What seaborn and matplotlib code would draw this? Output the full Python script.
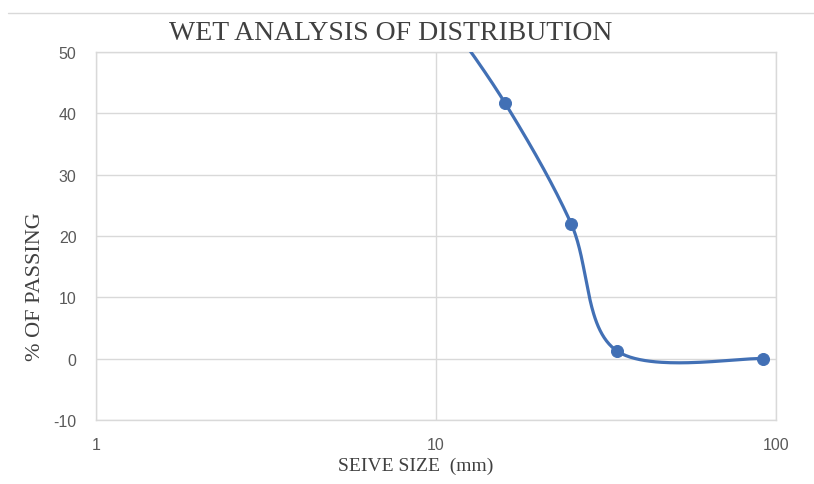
import numpy as np
import pandas as pd
import seaborn as sb
import matplotlib
matplotlib.use('Agg')
import matplotlib.pyplot as plt
from matplotlib.lines import Line2D

# sieve data (the 10 mm point sits above the visible range)
sieve_size = [10, 16, 25, 34, 92]
passing = [58, 41.6, 22.0, 1.3, 0.0]

x_ticks = [1, 10, 100]
y_ticks = [-10, 0, 10, 20, 30, 40, 50]

df = pd.DataFrame({"size": sieve_size, "passing": passing})


def smooth_curve(xs, ys, n=60):
    # excel style smoothed line: bezier segments, control points from neighbours
    px = np.log10(np.array(xs, dtype=float)) * 340.0
    py = np.array(ys, dtype=float) * 6.13
    pts = np.column_stack([px, py])
    out = []
    for i in range(len(pts) - 1):
        p0 = pts[i]
        p3 = pts[i + 1]
        prev = pts[i - 1] if i > 0 else p0
        nxt = pts[i + 2] if i + 2 < len(pts) else p3
        c1 = p0 + (p3 - prev) / 6.0
        c2 = p3 - (nxt - p0) / 6.0
        t = np.linspace(0, 1, n)[:, None]
        seg = ((1 - t) ** 3) * p0 + 3 * ((1 - t) ** 2) * t * c1 + 3 * (1 - t) * t ** 2 * c2 + t ** 3 * p3
        out.append(seg)
    out = np.vstack(out)
    return 10 ** (out[:, 0] / 340.0), out[:, 1] / 6.13


sb.set_style("white")
plt.rcParams['font.family'] = ['Liberation Sans', 'DejaVu Sans']
plt.rcParams['axes.unicode_minus'] = False

fig = plt.figure(figsize=(8.14, 4.85), dpi=100)
ax = fig.add_axes([0.118, 0.132, 0.835, 0.759])

cx, cy = smooth_curve(sieve_size, passing)
curve = pd.DataFrame({"size": cx, "passing": cy})
sb.lineplot(x="size", y="passing", data=curve, ax=ax, color="#4270b5",
            linewidth=2.3, sort=False, estimator=None, zorder=3)
sb.scatterplot(x="size", y="passing", data=df, ax=ax, color="#4270b5",
               s=75, edgecolor="#4270b5", zorder=4)

ax.set_xscale("log")
ax.set_xlim(1, 100)
ax.set_ylim(-10, 50)
ax.set_xticks(x_ticks)
ax.set_xticklabels([str(v) for v in x_ticks])
ax.set_yticks(y_ticks)
ax.minorticks_off()
ax.tick_params(axis="both", length=0, labelsize=11.5, labelcolor="#595959")
ax.tick_params(axis="x", pad=12)
ax.tick_params(axis="y", pad=14)
ax.grid(True, which="major", color="#d9d9d9", linewidth=1.0)
for s in ax.spines.values():
    s.set_color("#d9d9d9")
    s.set_linewidth(1.0)
ax.set_xlabel("")
ax.set_ylabel("")

fig.text(0.48, 0.93, "WET ANALYSIS OF DISTRIBUTION", ha="center", va="center",
         fontsize=20, color="#404040", family="Liberation Serif")
fig.text(0.511, 0.038, "SEIVE SIZE  (mm)", ha="center", va="center",
         fontsize=14, color="#404040", family="Liberation Serif")
fig.text(0.043, 0.41, "% OF PASSING", ha="center", va="center", rotation=90,
         fontsize=16, color="#404040", family="Liberation Serif")

# thin frame line across the top of the picture
fig.add_artist(Line2D([0.01, 1.0], [0.972, 0.972], transform=fig.transFigure,
                      color="#d9d9d9", linewidth=1.0))

fig.savefig("out.png", dpi=100)
